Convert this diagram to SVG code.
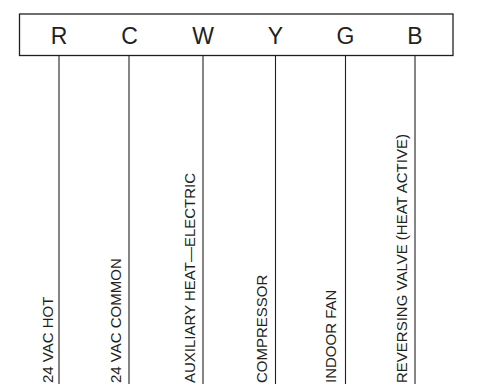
<svg xmlns="http://www.w3.org/2000/svg" width="485" height="392" viewBox="0 0 485 392">
  <style>
    .box { fill: #ffffff; stroke: #231f20; stroke-width: 1.3; }
    .term { font-family: "Liberation Sans", Arial, sans-serif; font-size: 23px; fill: #231f20; text-anchor: middle; }
    .lbl { font-family: "Liberation Sans", Arial, sans-serif; font-size: 15px; fill: #231f20; }
    .wire { stroke: #231f20; stroke-width: 1.1; fill: none; }
  </style>
  <rect width="485" height="392" fill="#ffffff"/>
  <g id="terminal-block">
    <rect class="box" x="19.5" y="14" width="433.5" height="41.5"/>
    <text class="term" x="59" y="44">R</text>
    <text class="term" x="129.5" y="44">C</text>
    <text class="term" x="203" y="44">W</text>
    <text class="term" x="275.5" y="44">Y</text>
    <text class="term" x="345.5" y="44">G</text>
    <text class="term" x="415" y="44">B</text>
  </g>
  <g id="connectors">
    <line class="wire" x1="59" y1="55.5" x2="59" y2="384"/>
    <line class="wire" x1="129" y1="55.5" x2="129" y2="384"/>
    <line class="wire" x1="203" y1="55.5" x2="203" y2="384"/>
    <line class="wire" x1="275.5" y1="55.5" x2="275.5" y2="384"/>
    <line class="wire" x1="345.5" y1="55.5" x2="345.5" y2="384"/>
    <line class="wire" x1="415" y1="55.5" x2="415" y2="384"/>
  </g>
  <g id="label-r"><text class="lbl" transform="translate(53,383) rotate(-90)">24 VAC HOT</text></g>
  <g id="label-c"><text class="lbl" transform="translate(120.5,383) rotate(-90)">24 VAC COMMON</text></g>
  <g id="label-w"><text class="lbl" transform="translate(195,383) rotate(-90)">AUXILIARY HEAT—ELECTRIC</text></g>
  <g id="label-y"><text class="lbl" transform="translate(266.5,383) rotate(-90)">COMPRESSOR</text></g>
  <g id="label-g"><text class="lbl" transform="translate(336,383) rotate(-90)">INDOOR FAN</text></g>
  <g id="label-b"><text class="lbl" transform="translate(406.5,383) rotate(-90)">REVERSING VALVE (HEAT ACTIVE)</text></g>
</svg>
